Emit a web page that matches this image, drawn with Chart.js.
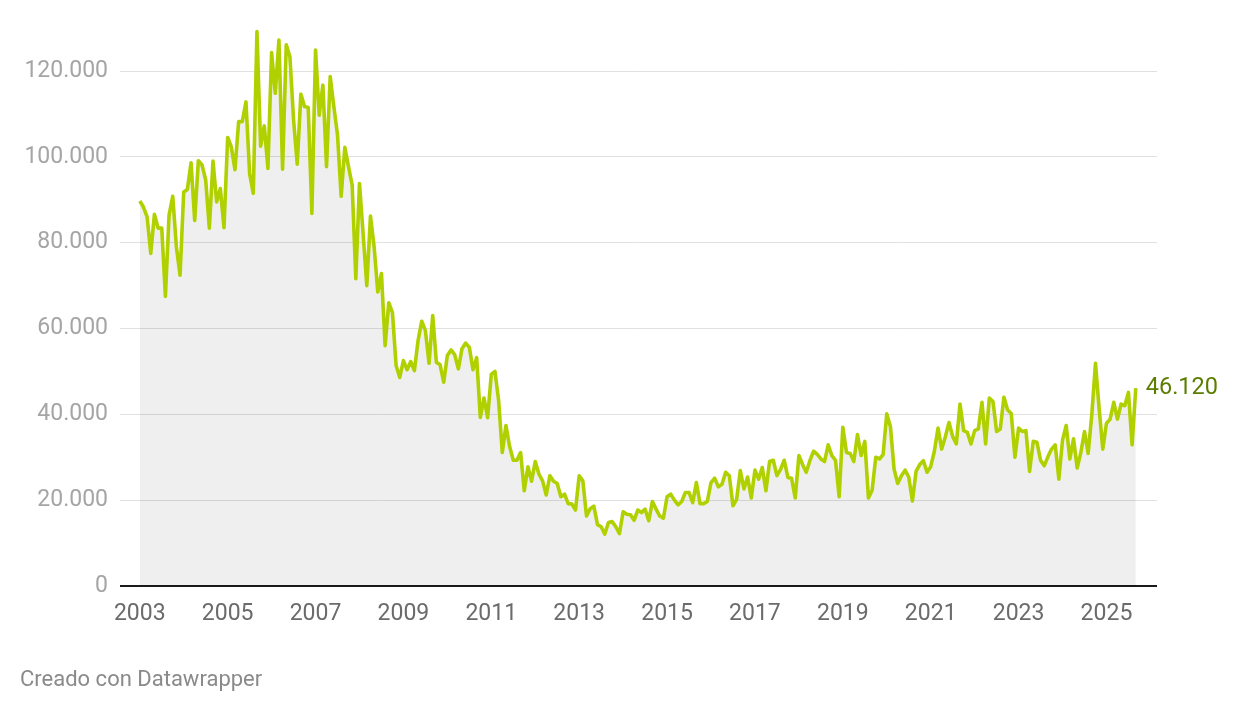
<!DOCTYPE html>
<html>
<head>
<meta charset="utf-8">
<script src="https://cdn.jsdelivr.net/npm/chart.js@4"></script>
<style>
  body { margin: 0; background: #fff; }
  .wrap { position: relative; width: 1240px; height: 712px; }
  #myChart { position: absolute; left: 0; top: 0; }
  .credit {
    position: absolute; left: 20px; top: 666px;
    font: 22px Roboto, sans-serif; line-height: 26px; color: #8a8a8a;
  }
</style>
</head>
<body>
<div class="wrap">
  <canvas id="myChart" width="1240" height="712"></canvas>
  <div class="credit">Creado con Datawrapper</div>
</div>
<script>
//monthly values, one list per year (Jan 2003 - Sep 2025)
const v2003 = [89700, 88300, 86000, 77500, 86600, 83400, 83400, 67500, 86400, 90800, 79000, 72400];
const v2004 = [91800, 92400, 98600, 85200, 99100, 98100, 94600, 83400, 99000, 89500, 92600, 83500];
const v2005 = [104500, 102300, 97000, 108200, 108200, 112800, 96100, 91500, 129200, 102500, 107200, 97300];
const v2006 = [124300, 114800, 127200, 97100, 126100, 123300, 108600, 98300, 114600, 111700, 111500, 86800];
const v2007 = [124900, 109700, 116700, 97700, 118700, 111700, 105100, 90800, 102200, 97700, 93400, 71600];
const v2008 = [93800, 82000, 70000, 86200, 79000, 68500, 72800, 56000, 66000, 63700, 51400, 48600];
const v2009 = [52500, 50400, 52300, 50200, 57200, 61700, 59500, 51900, 63000, 52100, 51600, 47500];
const v2010 = [53700, 55000, 53900, 50600, 55300, 56600, 55600, 50400, 53200, 39300, 43800, 39200];
const v2011 = [49300, 50000, 43200, 31100, 37400, 32500, 29300, 29300, 31100, 22200, 27800, 24400];
const v2012 = [29000, 26100, 24500, 21200, 25700, 24400, 23900, 20800, 21400, 19200, 19100, 17700];
const v2013 = [25700, 24500, 16300, 18000, 18600, 14300, 13800, 12100, 14800, 15000, 13800, 12200];
const v2014 = [17300, 16700, 16600, 15300, 17700, 17100, 17900, 15200, 19700, 17900, 16300, 15800];
const v2015 = [20800, 21400, 20000, 18900, 19700, 21800, 21800, 19400, 24100, 19200, 19200, 19700];
const v2016 = [24100, 25100, 23100, 23700, 26500, 25700, 18700, 20200, 26900, 22600, 25400, 20500];
const v2017 = [27000, 24900, 27600, 22200, 29000, 29300, 25700, 27200, 29300, 25300, 25100, 20500];
const v2018 = [30400, 28300, 26500, 29200, 31400, 30700, 29600, 29000, 32900, 30400, 29300, 20800];
const v2019 = [37000, 31100, 30900, 29000, 35300, 30400, 33700, 20500, 22300, 30000, 29600, 30600];
const v2020 = [40100, 37100, 27200, 23900, 25700, 27000, 25400, 19800, 26700, 28300, 29200, 26500];
const v2021 = [27800, 31400, 36800, 31900, 34800, 38100, 34800, 33100, 42400, 36200, 35800, 33100];
const v2022 = [36200, 36600, 42800, 33100, 43800, 43000, 36000, 36600, 44000, 41000, 40200, 30000];
const v2023 = [36800, 36000, 36200, 26700, 33700, 33500, 29300, 28000, 30100, 31900, 32900, 24900];
const v2024 = [34000, 37400, 29600, 34300, 27500, 31100, 36000, 30900, 40000, 51900, 41300, 31900];
const v2025 = [37900, 38900, 42800, 38900, 42400, 42000, 45100, 32900, 46120];

//axis tick labels
const tickLabels = ["2003", "2005", "2007", "2009", "2011", "2013", "2015", "2017", "2019", "2021", "2023", "2025"];
const yTicks = [0, 20000, 40000, 60000, 80000, 100000, 120000];

const values = [].concat(v2003, v2004, v2005, v2006, v2007, v2008, v2009, v2010,
  v2011, v2012, v2013, v2014, v2015, v2016, v2017, v2018, v2019, v2020, v2021,
  v2022, v2023, v2024, v2025);

const fmt = (n) => String(n).replace(/\B(?=(\d{3})+(?!\d))/g, ".");

//label next to the last point
const lastLabel = {
  id: "lastLabel",
  afterDatasetsDraw(chart) {
    const pts = chart.getDatasetMeta(0).data;
    const p = pts[pts.length - 1];
    const ctx = chart.ctx;
    ctx.save();
    ctx.font = "23.5px Roboto";
    ctx.fillStyle = "#5b7d00";
    ctx.textAlign = "left";
    ctx.textBaseline = "middle";
    ctx.fillText(fmt(values[values.length - 1]), p.x + 10, p.y);
    ctx.restore();
  },
};

const data = {
  datasets: [
    {
      data: values.map((v, i) => ({ x: i, y: v })),
      borderColor: "#b1d000",
      borderWidth: 3.6,
      borderJoinStyle: "round",
      backgroundColor: "rgba(0,0,0,0.062)",
      fill: "origin",
      pointRadius: 0,
      tension: 0,
      clip: false,
    },
  ],
};

const config = {
  type: "line",
  data: data,
  options: {
    responsive: false,
    animation: false,
    events: [],
    layout: { padding: { top: 71, right: 83, bottom: 0, left: 0 } },
    plugins: { legend: { display: false }, tooltip: { enabled: false } },
    scales: {
      x: {
        type: "linear",
        min: -5.4,
        max: 277.8,
        afterBuildTicks: (scale) => {
          scale.ticks = tickLabels.map((t, i) => ({ value: i * 24 }));
        },
        afterFit: (scale) => {
          scale.height = 126;
        },
        grid: { display: false, drawTicks: false },
        border: { display: false },
        ticks: {
          padding: 14,
          maxRotation: 0,
          autoSkip: false,
          color: "#6b6b6b",
          font: { family: "Roboto", size: 23 },
          callback: (v) => tickLabels[Math.round(v / 24)],
        },
      },
      y: {
        min: 0,
        max: 120000,
        afterBuildTicks: (scale) => {
          scale.ticks = yTicks.map((v) => ({ value: v }));
        },
        afterFit: (scale) => {
          scale.width = 120;
        },
        grid: {
          drawTicks: false,
          color: (c) => (c.tick.value === 0 ? "#1a1a1a" : "#e0e0e0"),
          lineWidth: (c) => (c.tick.value === 0 ? 2 : 1),
        },
        border: { display: false },
        ticks: {
          padding: 12,
          color: "#a5a5a5",
          font: { family: "Roboto", size: 23 },
          callback: (v) => fmt(v),
        },
      },
    },
  },
  plugins: [lastLabel],
};

const myChart = new Chart(document.getElementById("myChart"), config);
</script>
</body>
</html>
